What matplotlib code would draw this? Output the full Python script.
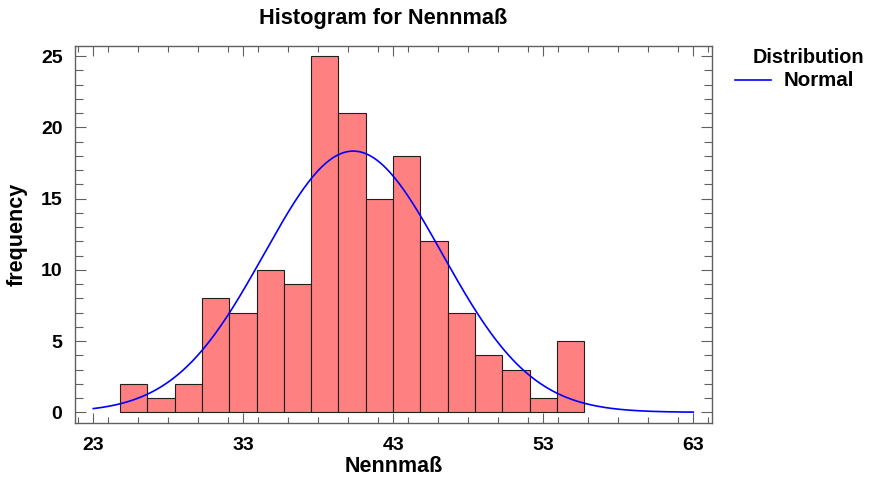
import numpy as np
import matplotlib
matplotlib.use('Agg')
import matplotlib.pyplot as plt
from matplotlib.ticker import MultipleLocator

# ── Data ────────────────────────────────────────────────────────────────────
bin_start = 24.78
bin_width = 1.8206
counts = [2, 1, 2, 8, 7, 10, 9, 25, 21, 15, 18, 12, 7, 4, 3, 1, 5]

# fitted normal
fit_mean = 40.33
fit_sd = 5.94
curve_from, curve_to = 23, 63

x_ticks = [23, 33, 43, 53, 63]
y_ticks = [0, 5, 10, 15, 20, 25]

# ── Style ───────────────────────────────────────────────────────────────────
plt.rcParams.update({
    'font.family': ['Liberation Sans', 'DejaVu Sans'],
    'font.weight': 'bold',
    'font.size': 14,
})

C_BAR = '#FF8080'
C_LINE = '#0000FF'
C_FRAME = '#606060'

W, H = 877, 478
fig = plt.figure(figsize=(W / 100, H / 100), dpi=100)
ax = fig.add_axes([75 / W, 1 - 422.7 / H, (711.7 - 75) / W, (422.7 - 45.7) / H])

edges = bin_start + bin_width * np.arange(len(counts) + 1)
ax.bar(edges[:-1], counts, width=bin_width, align='edge',
       color=C_BAR, edgecolor='#202020', linewidth=0.8, zorder=2)

n = sum(counts)
xs = np.linspace(curve_from, curve_to, 400)
ys = n * bin_width / (fit_sd * np.sqrt(2 * np.pi)) * np.exp(-0.5 * ((xs - fit_mean) / fit_sd) ** 2)
ax.plot(xs, ys, color=C_LINE, linewidth=1.2, zorder=3)

ax.set_xlim(21.78, 64.23)
ax.set_ylim(-0.73, 25.74)
ax.set_xticks(x_ticks)
ax.set_yticks(y_ticks)
ax.xaxis.set_minor_locator(MultipleLocator(2))
ax.yaxis.set_minor_locator(MultipleLocator(1))

ax.tick_params(which='both', direction='in', top=True, right=True,
               color=C_FRAME, width=0.8, labelsize=14)
ax.tick_params(axis='y', which='major', length=8, pad=9)
ax.tick_params(axis='y', which='minor', length=6)
ax.tick_params(axis='x', which='major', length=7, pad=10)
ax.tick_params(axis='x', which='minor', length=4)
for s in ax.spines.values():
    s.set_color(C_FRAME)
    s.set_linewidth(1.0)

ax.set_xlabel('Nennmaß', fontsize=15.5, fontweight='bold')
ax.set_ylabel('frequency', fontsize=15.5, fontweight='bold')
ax.xaxis.set_label_coords(0.5, -0.088)
ax.yaxis.set_label_coords(-0.0738, 0.5)

fig.text(383.5 / W, 1 - 24 / H, 'Histogram for Nennmaß', ha='center', va='baseline',
         fontsize=15.7, fontweight='bold')

# legend drawn by hand like the original
fig.text(753 / W, 1 - 63 / H, 'Distribution', ha='left', va='baseline',
         fontsize=14.3, fontweight='bold')
fig.text(784 / W, 1 - 86 / H, 'Normal', ha='left', va='baseline',
         fontsize=14.8, fontweight='bold')
fig.add_artist(plt.Line2D([735 / W, 771 / W], [1 - 80 / H, 1 - 80 / H],
                          color=C_LINE, linewidth=1.2))

fig.savefig('out.png', dpi=100)
